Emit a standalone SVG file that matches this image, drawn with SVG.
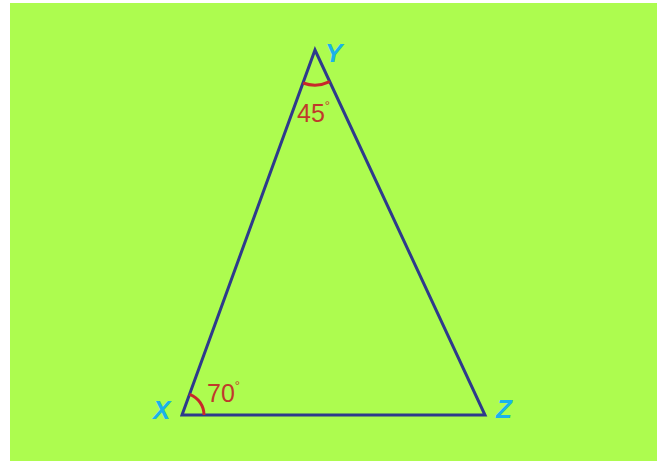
<svg xmlns="http://www.w3.org/2000/svg" width="663" height="462" viewBox="0 0 663 462">
<style>
.edge{stroke:#2e3a8c;stroke-width:3;fill:none;stroke-linejoin:miter}
.arc{stroke:#c8282a;stroke-width:3;fill:none}
.vlab{font-family:"Liberation Sans",Arial,sans-serif;font-weight:bold;font-style:italic;font-size:26px;fill:#1ab2ea}
.alab{font-family:"Liberation Sans",Arial,sans-serif;font-size:25px;fill:#c0392b}
.deg{font-size:13px}
</style>
<rect x="0" y="0" width="663" height="462" fill="#ffffff"/>
<rect x="10" y="3" width="647" height="458" fill="#adfc4f"/>
<g id="connectors">
<path class="edge" d="M182,415 L315,50 L485,415 Z"/>
</g>
<g id="Y">
<text class="vlab" x="325" y="62">Y</text>
<path class="arc" d="M303,83 A35,35 0 0 0 329.8,81.7"/>
<text class="alab" x="297" y="122">45<tspan class="deg" dy="-12">°</tspan></text>
</g>
<g id="X">
<text class="vlab" x="153" y="419">X</text>
<path class="arc" d="M204,415 A22,22 0 0 0 189.5,394.3"/>
<text class="alab" x="207" y="402">70<tspan class="deg" dy="-12">°</tspan></text>
</g>
<g id="Z">
<text class="vlab" x="496" y="418">Z</text>
</g>
</svg>
